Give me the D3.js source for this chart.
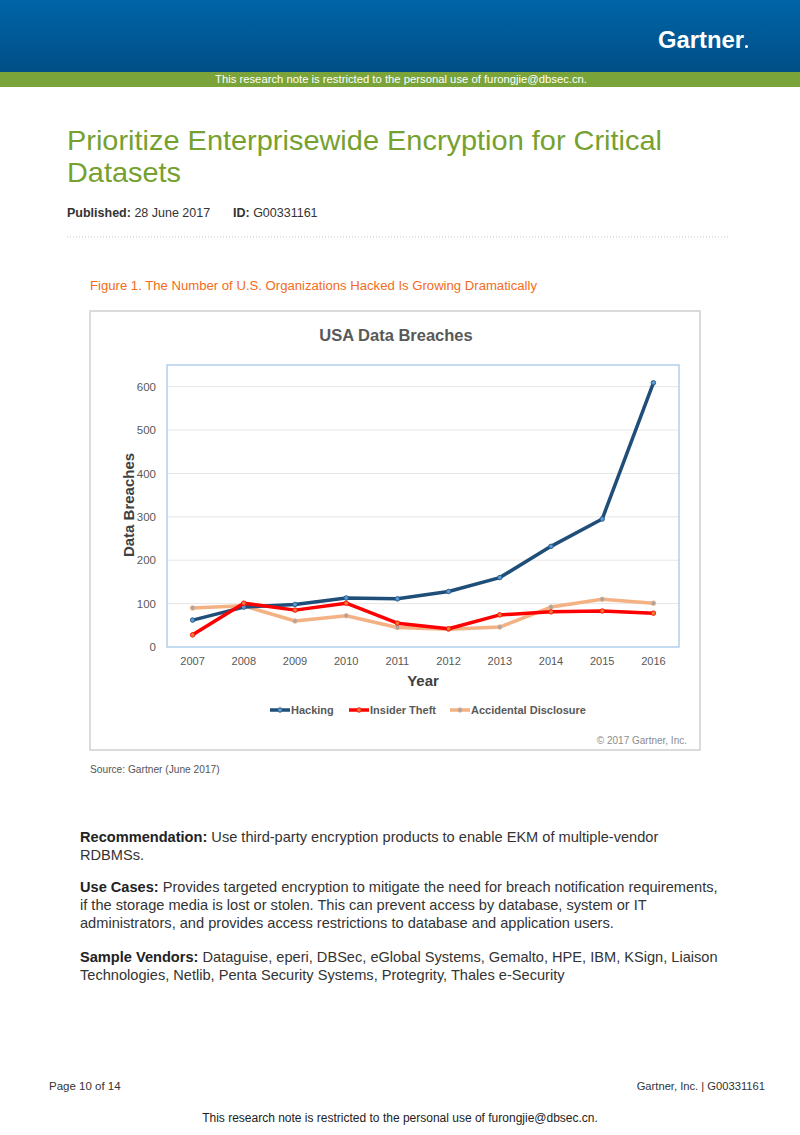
<!DOCTYPE html>
<html>
<head>
<meta charset="utf-8">
<script src="https://cdn.jsdelivr.net/npm/d3@7"></script>
<style>
body { margin: 0; background: #fff; }
text { font-family: "Liberation Sans", Arial, sans-serif; }
</style>
</head>
<body>
<script>
const W = 800, H = 1135

const years = [2007, 2008, 2009, 2010, 2011, 2012, 2013, 2014, 2015, 2016]
const hacking = [62, 92, 98, 113, 111, 128, 160, 232, 295, 609]
const insiderTheft = [28, 101, 85, 101, 55, 42, 74, 81, 83, 78]
const accidental = [90, 95, 60, 72, 45, 41, 46, 92, 110, 101]
const yTicks = [0, 100, 200, 300, 400, 500, 600]
const seriesNames = ["Hacking", "Insider Theft", "Accidental Disclosure"]
const lineColors = ["#1f4e79", "#ff0000", "#f4b183"]
const dotColors = ["#5b9bd5", "#ed7d31", "#a5a5a5"]

const greyText = "#595959"
const bodyText = "#333333"

let svg = d3.select("body")
    .append("svg")
    .attr("width", W)
    .attr("height", H)

// header band
let defs = svg.append("defs")
let grad = defs.append("linearGradient")
    .attr("id", "hdr")
    .attr("x1", 0).attr("y1", 0).attr("x2", 0).attr("y2", 1)
grad.append("stop").attr("offset", "0%").attr("stop-color", "#0064a8")
grad.append("stop").attr("offset", "100%").attr("stop-color", "#004f86")

svg.append("rect")
    .attr("x", 0).attr("y", 0)
    .attr("width", W).attr("height", 72)
    .attr("fill", "url(#hdr)")

svg.append("rect")
    .attr("x", 0).attr("y", 72)
    .attr("width", W).attr("height", 15)
    .attr("fill", "#7aa33a")

svg.append("text")
    .attr("x", 658).attr("y", 48)
    .attr("fill", "#fff")
    .attr("textLength", 86)
    .attr("lengthAdjust", "spacingAndGlyphs")
    .style("font-size", "23px")
    .style("font-weight", "bold")
    .text("Gartner")
svg.append("circle")
    .attr("cx", 746.5).attr("cy", 46.5).attr("r", 1.5)
    .attr("fill", "#fff")

const notice = "This research note is restricted to the personal use of furongjie@dbsec.cn."
svg.append("text")
    .attr("x", 215).attr("y", 83)
    .attr("fill", "#fff")
    .attr("textLength", 372)
    .attr("lengthAdjust", "spacingAndGlyphs")
    .style("font-size", "10.5px")
    .text(notice)

// title
let titleLines = ["Prioritize Enterprisewide Encryption for Critical", "Datasets"]
const titleLen = [595, 114]
svg.selectAll(".title")
    .data(titleLines)
    .enter()
    .append("text")
    .attr("x", 67)
    .attr("y", function(d, i){ return 150 + i*32 })
    .attr("fill", "#76a12f")
    .attr("textLength", function(d, i){ return titleLen[i] })
    .attr("lengthAdjust", "spacingAndGlyphs")
    .style("font-size", "28px")
    .text(function(d){ return d })

let pub = svg.append("text")
    .attr("x", 67).attr("y", 217)
    .attr("fill", bodyText)
    .style("font-size", "12.5px")
pub.append("tspan").style("font-weight", "bold").text("Published:")
pub.append("tspan").text(" 28 June 2017")
let idt = svg.append("text")
    .attr("x", 233).attr("y", 217)
    .attr("fill", bodyText)
    .style("font-size", "12.5px")
idt.append("tspan").style("font-weight", "bold").text("ID:")
idt.append("tspan").text(" G00331161")

svg.append("line")
    .attr("x1", 67).attr("x2", 730)
    .attr("y1", 237).attr("y2", 237)
    .attr("stroke", "#c8c8c8")
    .attr("stroke-dasharray", "1,2")

svg.append("text")
    .attr("x", 90).attr("y", 290)
    .attr("fill", "#f26b21")
    .attr("textLength", 447)
    .attr("lengthAdjust", "spacingAndGlyphs")
    .style("font-size", "12.5px")
    .text("Figure 1. The Number of U.S. Organizations Hacked Is Growing Dramatically")

// chart box
svg.append("rect")
    .attr("x", 90).attr("y", 311)
    .attr("width", 610).attr("height", 439)
    .attr("fill", "#fff")
    .attr("stroke", "#d0d0d0")
    .attr("stroke-width", 1.5)

svg.append("text")
    .attr("x", 396).attr("y", 341)
    .attr("text-anchor", "middle")
    .attr("fill", greyText)
    .style("font-size", "16.5px")
    .style("font-weight", "bold")
    .text("USA Data Breaches")

const plot = {left: 167, right: 679, top: 365, bottom: 647}

let x = d3.scaleBand()
    .domain(years)
    .range([plot.left, plot.right])
    .padding(0)
let y = d3.scaleLinear()
    .domain([0, 650])
    .range([plot.bottom, plot.top])

// gridlines
svg.append("g")
    .selectAll("line")
    .data(yTicks.slice(1))
    .enter()
    .append("line")
    .attr("x1", plot.left).attr("x2", plot.right)
    .attr("y1", function(d){ return y(d) })
    .attr("y2", function(d){ return y(d) })
    .attr("stroke", "#e6e6e6")
    .attr("stroke-width", 1)

svg.append("rect")
    .attr("x", plot.left).attr("y", plot.top)
    .attr("width", plot.right - plot.left)
    .attr("height", plot.bottom - plot.top)
    .attr("fill", "none")
    .attr("stroke", "#9dc3e6")
    .attr("stroke-width", 1.2)

let yAxis = svg.append("g")
    .attr("transform", `translate(${plot.left},0)`)
    .call(d3.axisLeft(y).tickValues(yTicks).tickSize(0).tickPadding(11))
yAxis.select(".domain").remove()
yAxis.selectAll("text")
    .attr("fill", greyText)
    .style("font-size", "11.5px")
    .style("font-family", "Liberation Sans, Arial, sans-serif")

let xAxis = svg.append("g")
    .attr("transform", `translate(0,${plot.bottom})`)
    .call(d3.axisBottom(x).tickSize(0).tickPadding(10))
xAxis.select(".domain").remove()
xAxis.selectAll("text")
    .attr("fill", greyText)
    .style("font-size", "11px")
    .style("font-family", "Liberation Sans, Arial, sans-serif")

svg.append("text")
    .attr("x", 423).attr("y", 686)
    .attr("text-anchor", "middle")
    .attr("fill", "#404040")
    .style("font-size", "15px")
    .style("font-weight", "bold")
    .text("Year")

svg.append("text")
    .attr("transform", "translate(134,505) rotate(-90)")
    .attr("text-anchor", "middle")
    .attr("fill", "#404040")
    .style("font-size", "15px")
    .style("font-weight", "bold")
    .text("Data Breaches")

// series
let series = [hacking, insiderTheft, accidental]
let line = d3.line()
    .x(function(d, i){ return x(years[i]) + x.bandwidth()/2 })
    .y(function(d){ return y(d) })

let order = [2, 0, 1]
order.forEach(function(s){
    svg.append("path")
        .datum(series[s])
        .attr("d", line)
        .attr("fill", "none")
        .attr("stroke", lineColors[s])
        .attr("stroke-width", 3.5)
        .attr("stroke-linejoin", "round")
    svg.append("g")
        .selectAll("circle")
        .data(series[s])
        .enter()
        .append("circle")
        .attr("cx", function(d, i){ return x(years[i]) + x.bandwidth()/2 })
        .attr("cy", function(d){ return y(d) })
        .attr("r", 2.3)
        .attr("fill", dotColors[s])
        .attr("stroke", lineColors[s])
        .attr("stroke-width", 0.8)
})

// legend
const legendX = [270, 349, 450]
let leg = svg.append("g")
    .selectAll("g")
    .data(seriesNames)
    .enter()
    .append("g")
    .attr("transform", function(d, i){ return `translate(${legendX[i]},710)` })
leg.append("line")
    .attr("x1", 0).attr("x2", 20)
    .attr("stroke", function(d, i){ return lineColors[i] })
    .attr("stroke-width", 3.5)
leg.append("circle")
    .attr("cx", 10).attr("r", 2.3)
    .attr("fill", function(d, i){ return dotColors[i] })
    .attr("stroke", function(d, i){ return lineColors[i] })
    .attr("stroke-width", 0.8)
leg.append("text")
    .attr("x", 21).attr("y", 4)
    .attr("fill", greyText)
    .style("font-size", "11px")
    .style("font-weight", "bold")
    .text(function(d){ return d })

svg.append("text")
    .attr("x", 687).attr("y", 744)
    .attr("text-anchor", "end")
    .attr("fill", "#8c8c8c")
    .style("font-size", "10px")
    .text("\u00a9 2017 Gartner, Inc.")

svg.append("text")
    .attr("x", 90).attr("y", 773)
    .attr("fill", "#555")
    .style("font-size", "10.2px")
    .text("Source: Gartner (June 2017)")

// body paragraphs
const paragraphs = [
    {y: 842, label: "Recommendation:", lines: [" Use third-party encryption products to enable EKM of multiple-vendor", "RDBMSs."]},
    {y: 892, label: "Use Cases:", lines: [" Provides targeted encryption to mitigate the need for breach notification requirements,", "if the storage media is lost or stolen. This can prevent access by database, system or IT", "administrators, and provides access restrictions to database and application users."]},
    {y: 962, label: "Sample Vendors:", lines: [" Dataguise, eperi, DBSec, eGlobal Systems, Gemalto, HPE, IBM, KSign, Liaison", "Technologies, Netlib, Penta Security Systems, Protegrity, Thales e-Security"]}
]
paragraphs.forEach(function(p){
    p.lines.forEach(function(l, i){
        let t = svg.append("text")
            .attr("x", 80).attr("y", p.y + i*18)
            .attr("fill", bodyText)
            .style("font-size", "14.6px")
        if(i == 0){
            t.append("tspan").style("font-weight", "bold").attr("fill", "#222").text(p.label)
        }
        t.append("tspan").text(l)
    })
})

// footer
svg.append("text")
    .attr("x", 49).attr("y", 1090)
    .attr("fill", bodyText)
    .style("font-size", "11.5px")
    .text("Page 10 of 14")
svg.append("text")
    .attr("x", 765).attr("y", 1090)
    .attr("text-anchor", "end")
    .attr("fill", bodyText)
    .style("font-size", "11.2px")
    .text("Gartner, Inc. | G00331161")
svg.append("text")
    .attr("x", W/2).attr("y", 1122)
    .attr("text-anchor", "middle")
    .attr("fill", "#222")
    .style("font-size", "12px")
    .text(notice)
</script>
</body>
</html>
